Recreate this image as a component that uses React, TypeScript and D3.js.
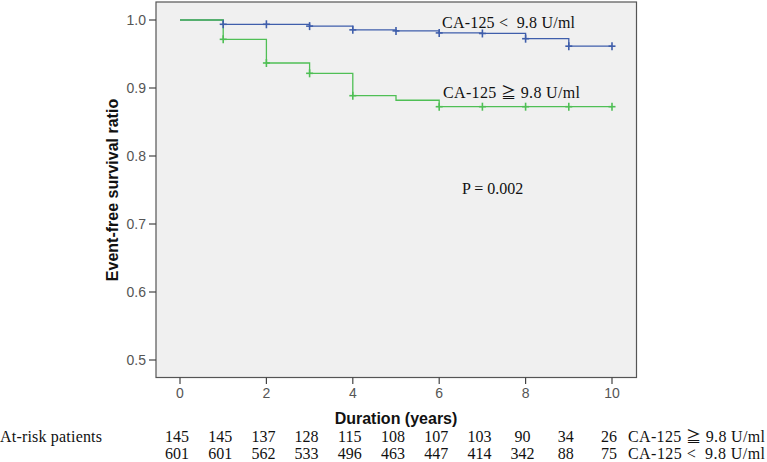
import React from "react";
import * as d3 from "d3";

const years = [0, 1, 2, 3, 4, 5, 6, 7, 8, 9, 10];
const lowSurvival = [1.0, 0.9937, 0.9937, 0.991, 0.9855, 0.984, 0.981, 0.9802, 0.9725, 0.9615, 0.9615];
const highSurvival = [1.0, 0.9716, 0.9368, 0.9216, 0.8887, 0.882, 0.8725, 0.8725, 0.8725, 0.8725, 0.8725];
const lowCensor = [1, 2, 3, 4, 5, 6, 7, 8, 9, 10];
const highCensor = [1, 2, 3, 4, 6, 7, 8, 9, 10];
const atRiskHigh = [145, 145, 137, 128, 115, 108, 107, 103, 90, 34, 26];
const atRiskLow = [601, 601, 562, 533, 496, 463, 447, 414, 342, 88, 75];
const xTicks = [0, 2, 4, 6, 8, 10];
const yTicks = [0.5, 0.6, 0.7, 0.8, 0.9, 1.0];

const BLUE = "#3f5eab";
const GREEN = "#4fbf55";
const SERIF = "'Liberation Serif', 'Times New Roman', serif";
const SANS = "'Liberation Sans', Arial, sans-serif";
const CJK = "'Noto Sans CJK JP', 'Noto Sans CJK SC', sans-serif";

function LowLabel({ x, y, size, len }: { x: number; y: number; size: number; len: number }) {
  return (
    <text x={x} y={y} fontFamily={SERIF} fontSize={size} fill="#111" textLength={len} lengthAdjust="spacing" style={{ whiteSpace: "pre" }}>
      {"CA-125 <  9.8 U/ml"}
    </text>
  );
}

function HighLabel({ x, y, size, len }: { x: number; y: number; size: number; len: number }) {
  return (
    <text x={x} y={y} fontFamily={SERIF} fontSize={size} fill="#111" textLength={len} lengthAdjust="spacing" style={{ whiteSpace: "pre" }}>
      {"CA-125 "}
      <tspan fontFamily={CJK} fontSize={size * 0.95}>≧</tspan>
      {" 9.8 U/ml"}
    </text>
  );
}

export default function App() {
  const box = { left: 156, right: 636.5, top: 2, bottom: 377.5 };
  const x = d3.scaleLinear().domain([0, 10]).range([180, 612]);
  const y = d3.scaleLinear().domain([0.5, 1.0]).range([360, 20]);

  const stepLine = d3
    .line<number>()
    .x((_, i) => x(years[i]))
    .y((d) => y(d))
    .curve(d3.curveStepAfter);

  const censorMarks = (vals: number[], times: number[], color: string) =>
    times.map((t) => {
      const cx = x(t);
      const cy = y(vals[years.indexOf(t)]);
      return (
        <g key={t} stroke={color} strokeWidth={1.6}>
          <line x1={cx} x2={cx} y1={cy - 4} y2={cy + 4} />
          <line x1={cx - 3.5} x2={cx + 3.5} y1={cy} y2={cy} />
        </g>
      );
    });

  return (
    <svg width={767} height={462} style={{ position: "absolute", left: 0, top: 0, background: "#fff" }}>
      <rect
        x={box.left}
        y={box.top}
        width={box.right - box.left}
        height={box.bottom - box.top}
        fill="#f0f0f0"
        stroke="#555"
        strokeWidth={1.2}
      />
      {yTicks.map((t) => (
        <g key={t}>
          <line x1={149} x2={box.left} y1={y(t)} y2={y(t)} stroke="#444" strokeWidth={1.2} />
          <text x={146} y={y(t)} dy="0.35em" textAnchor="end" fontFamily={SANS} fontSize={14} fill="#555">
            {t.toFixed(1)}
          </text>
        </g>
      ))}
      {xTicks.map((t) => (
        <g key={t}>
          <line x1={x(t)} x2={x(t)} y1={box.bottom} y2={384} stroke="#444" strokeWidth={1.2} />
          <text x={x(t)} y={398} textAnchor="middle" fontFamily={SANS} fontSize={14} fill="#555">
            {t}
          </text>
        </g>
      ))}
      <text
        transform={`translate(118,190) rotate(-90)`}
        textAnchor="middle"
        fontFamily={SANS}
        fontWeight="bold"
        fontSize={16}
        fill="#111"
      >
        Event-free survival ratio
      </text>
      <text x={396} y={424} textAnchor="middle" fontFamily={SANS} fontWeight="bold" fontSize={16} fill="#111">
        Duration (years)
      </text>

      <path d={stepLine(lowSurvival) || ""} fill="none" stroke={BLUE} strokeWidth={1.3} />
      <path d={stepLine(highSurvival) || ""} fill="none" stroke={GREEN} strokeWidth={1.3} />
      {censorMarks(lowSurvival, lowCensor, BLUE)}
      {censorMarks(highSurvival, highCensor, GREEN)}

      <LowLabel x={442} y={28} size={16} len={133} />
      <HighLabel x={443} y={98} size={16} len={137} />
      <text x={462} y={194} fontFamily={SERIF} fontSize={16} fill="#111">
        P = 0.002
      </text>

      <text x={0} y={442} fontFamily={SERIF} fontSize={16} fill="#111" textLength={102} lengthAdjust="spacing">
        At-risk patients
      </text>
      {atRiskHigh.map((v, i) => (
        <text key={"h" + i} x={x(years[i]) - 3} y={442} textAnchor="middle" fontFamily={SERIF} fontSize={16} fill="#111">
          {v}
        </text>
      ))}
      {atRiskLow.map((v, i) => (
        <text key={"l" + i} x={x(years[i]) - 3} y={459} textAnchor="middle" fontFamily={SERIF} fontSize={16} fill="#111">
          {v}
        </text>
      ))}
      <HighLabel x={628} y={442} size={16} len={137} />
      <LowLabel x={628} y={459} size={16} len={137} />
    </svg>
  );
}
